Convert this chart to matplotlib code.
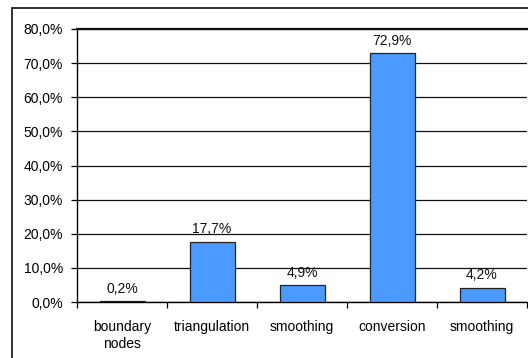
import matplotlib
matplotlib.use("Agg")
import matplotlib.pyplot as plt
from matplotlib.patches import Rectangle
from matplotlib.ticker import FuncFormatter, MultipleLocator

categories = ["boundary\nnodes", "triangulation", "smoothing", "conversion", "smoothing"]
shares = [0.2, 17.7, 4.9, 72.9, 4.2]

plt.rcParams["font.family"] = ["Liberation Sans", "DejaVu Sans"]

W, H = 528, 358
fig = plt.figure(figsize=(W / 100, H / 100), dpi=100)
fig.patch.set_facecolor("white")

# outer chart frame
fig.patches.append(Rectangle((12 / W, -0.1), 1.2, 1.1 - 8 / H,
                             transform=fig.transFigure, fill=False,
                             edgecolor="#222222", linewidth=1.3))

ax = fig.add_axes([77 / W, 1 - 302 / H, 450 / W, (302 - 29) / H])
x = list(range(len(categories)))
ax.bar(x, shares, width=0.5, color="#4a9aff", edgecolor="#222222",
       linewidth=0.9, zorder=3)

for xi, v in zip(x, shares):
    ax.annotate(f"{v:.1f}%".replace(".", ","), (xi, v), xytext=(0, 4),
                textcoords="offset points", ha="center", va="bottom",
                fontsize=10, color="#111111")

ax.set_xlim(-0.5, len(categories) - 0.5)
ax.set_ylim(0, 80)
ax.yaxis.set_major_locator(MultipleLocator(10))
ax.yaxis.set_major_formatter(FuncFormatter(lambda v, p: f"{v:.1f}%".replace(".", ",")))
ax.grid(axis="y", color="#111111", linewidth=0.9, zorder=0)
ax.set_axisbelow(True)

ax.set_xticks([i + 0.5 for i in range(-1, len(categories))])
ax.set_xticklabels([])
ax.set_xticks(x, minor=True)
ax.set_xticklabels(categories, minor=True, fontsize=10, linespacing=1.25)
ax.tick_params(axis="x", which="minor", length=0, pad=13)
ax.tick_params(axis="x", which="major", length=4, direction="out", width=0.9)
ax.tick_params(axis="y", length=4, direction="out", width=0.9, labelsize=10, pad=6)

for side in ("top", "right"):
    ax.spines[side].set_visible(False)
ax.spines["left"].set_linewidth(1.0)
ax.spines["bottom"].set_linewidth(1.0)
ax.axhline(80, color="#111111", linewidth=1.6, zorder=4, clip_on=False)

fig.savefig("out.png", dpi=100)
